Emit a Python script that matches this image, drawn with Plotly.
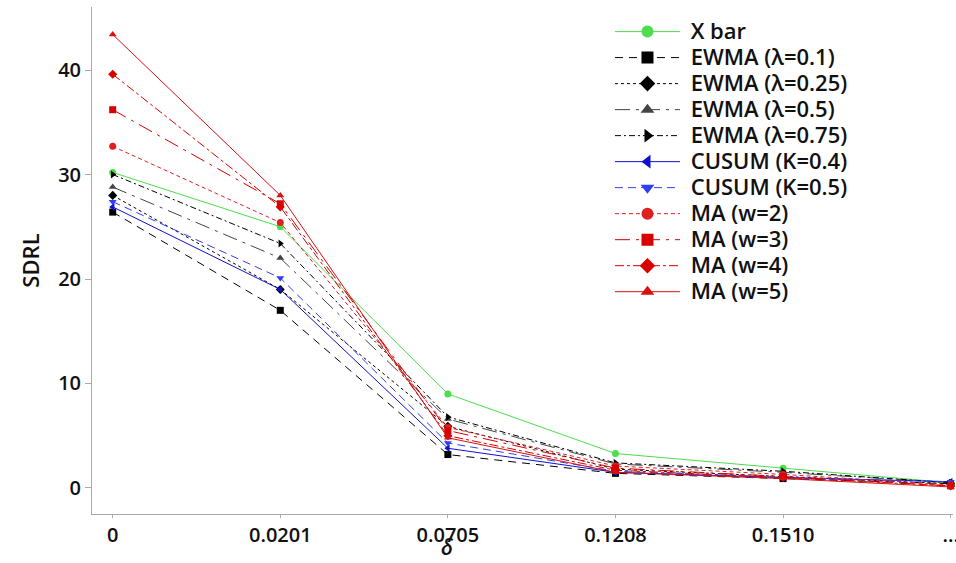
import plotly.graph_objects as go

categories = ["0", "0.0201", "0.0705", "0.1208", "0.1510", "..."]
xbar = [30.2, 25.0, 9.0, 3.3, 1.9, 0.5]
ewma_01 = [26.4, 17.0, 3.2, 1.4, 0.9, 0.4]
ewma_025 = [28.0, 19.0, 5.9, 1.8, 1.1, 0.4]
ewma_05 = [28.8, 22.0, 6.6, 2.3, 1.5, 0.5]
ewma_075 = [30.0, 23.4, 6.8, 2.4, 1.6, 0.5]
cusum_04 = [26.9, 19.0, 3.8, 1.5, 1.0, 0.6]
cusum_05 = [27.4, 20.1, 4.3, 1.6, 1.0, 0.6]
ma_2 = [32.7, 25.4, 5.8, 2.1, 1.3, 0.3]
ma_3 = [36.2, 27.2, 5.5, 1.9, 1.1, 0.2]
ma_4 = [39.6, 26.9, 5.0, 1.7, 1.0, 0.2]
ma_5 = [43.4, 28.0, 4.8, 1.5, 0.9, 0.1]

series = [
    ("X bar", xbar, "#4ddd4d", "solid", "circle"),
    ("EWMA (λ=0.1)", ewma_01, "#000000", "8px,6px", "square"),
    ("EWMA (λ=0.25)", ewma_025, "#000000", "3px,3px", "diamond"),
    ("EWMA (λ=0.5)", ewma_05, "#444444", "longdashdot", "triangle-up"),
    ("EWMA (λ=0.75)", ewma_075, "#000000", "6px,3px,2px,3px", "triangle-right"),
    ("CUSUM (K=0.4)", cusum_04, "#1010d0", "solid", "triangle-left"),
    ("CUSUM (K=0.5)", cusum_05, "#3040f0", "8px,5px", "triangle-down"),
    ("MA (w=2)", ma_2, "#e02020", "4px,3px", "circle"),
    ("MA (w=3)", ma_3, "#d80000", "longdashdot", "square"),
    ("MA (w=4)", ma_4, "#d80000", "dashdot", "diamond"),
    ("MA (w=5)", ma_5, "#d81010", "solid", "triangle-up"),
]

fig = go.Figure()
for i, (name, vals, color, dash, sym) in enumerate(series):
    grp = "g%d" % i
    fig.add_trace(go.Scatter(
        x=categories, y=vals, name=name, legendgroup=grp, showlegend=False,
        mode="lines+markers", cliponaxis=False,
        line=dict(color=color, width=1, dash=dash),
        marker=dict(symbol=sym, size=7, color=color),
    ))
    # legend-only entry with a larger symbol, as in the reference legend
    fig.add_trace(go.Scatter(
        x=[None], y=[None], legendgroup=grp, showlegend=True,
        name="<span style='font-size:22px'>&nbsp;" + name + "</span>",
        mode="lines+markers",
        line=dict(color=color, width=1, dash=dash),
        marker=dict(symbol=sym, size=12, color=color),
    ))

font_family = "Open Sans, Noto Sans, sans-serif"
fig.update_layout(
    width=956, height=563,
    margin=dict(l=92, r=3, t=7, b=49),
    plot_bgcolor="white", paper_bgcolor="white",
    font=dict(family=font_family, size=20, color="#111111", weight=600),
    showlegend=True,
    legend=dict(x=0.6016, y=0.987, xanchor="left", yanchor="top",
                bgcolor="rgba(0,0,0,0)", font=dict(size=17.7, weight=600),
                itemwidth=65, tracegroupgap=0),
    annotations=[dict(
        text="<i>δ</i>", x=2, xref="x", y=0, yref="paper",
        yanchor="bottom", yshift=-49, showarrow=False,
        font=dict(size=21, color="#111111"),
    )],
)
fig.update_xaxes(
    type="category", range=[-0.1235, 5.014], automargin=False,
    showline=True, linecolor="#aaaaaa", linewidth=1,
    ticks="outside", tickcolor="#aaaaaa", ticklen=3,
    showgrid=False, zeroline=False,
    tickfont=dict(size=20),
)
fig.update_yaxes(
    range=[-2.49, 46.03], automargin=False,
    tickvals=[0, 10, 20, 30, 40],
    showline=True, linecolor="#aaaaaa", linewidth=1,
    ticks="outside", tickcolor="#aaaaaa", ticklen=6,
    showgrid=False, zeroline=False,
    title=dict(text="SDRL", font=dict(size=22), standoff=12),
    tickfont=dict(size=20),
)

fig.write_html(
    "out.html",
    config={"displayModeBar": False},
    post_script="document.body.style.margin='0px';document.body.style.overflow='hidden';",
)
